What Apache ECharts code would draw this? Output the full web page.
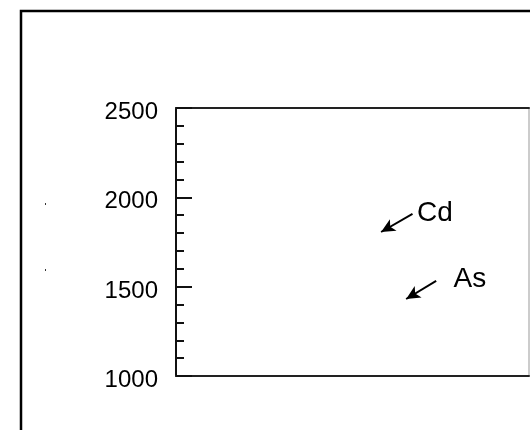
<!DOCTYPE html>
<html>
<head>
<meta charset="utf-8">
<script src="https://cdn.jsdelivr.net/npm/echarts@6/dist/echarts.min.js"></script>
<style>
  html, body { margin: 0; padding: 0; background: #fff; }
  #main { width: 530px; height: 430px; }
</style>
</head>
<body>
<div id="main"></div>
<script>
// y axis range and tick labels
const yTicks = [1000, 1500, 2000, 2500];
// annotation names, arrow tail / head in data coords, label anchor
const labelNames = ["Cd", "As"];
const arrowTail = [[67, 1907], [73.7, 1532]];
const arrowHead = [[58.1, 1806], [65.2, 1431]];
const labelPos = [[68.3, 1910], [78.6, 1544]];

const chartDom = document.getElementById("main");
const myChart = echarts.init(chartDom);

const textFont = "Liberation Sans";

const option = {
  animation: false,
  backgroundColor: "#fff",
  grid: {
    left: 176,
    top: 108,
    right: 1,
    bottom: 54,
    show: true,
    borderColor: "#999",
    borderWidth: 1
  },
  xAxis: [
    {
      type: "value",
      min: 0,
      max: 100,
      position: "bottom",
      axisLine: { show: true, onZero: false, lineStyle: { color: "#222", width: 2 } },
      axisTick: { show: false },
      axisLabel: { show: false },
      splitLine: { show: false }
    },
    {
      type: "value",
      min: 0,
      max: 100,
      position: "top",
      axisLine: { show: true, onZero: false, lineStyle: { color: "#222", width: 2 } },
      axisTick: { show: false },
      axisLabel: { show: false },
      splitLine: { show: false }
    }
  ],
  yAxis: {
    type: "value",
    min: yTicks[0],
    max: yTicks[yTicks.length - 1],
    interval: 500,
    axisLine: { show: true, onZero: false, lineStyle: { color: "#111", width: 2 } },
    axisTick: { show: true, inside: true, length: 16, lineStyle: { color: "#111", width: 2 } },
    minorTick: { show: true, splitNumber: 5, length: 8, lineStyle: { color: "#111", width: 2 } },
    axisLabel: {
      margin: 18,
      fontFamily: textFont,
      fontSize: 24,
      color: "#000",
      verticalAlign: "top",
      lineHeight: 9,
      formatter: (v) => (yTicks.includes(v) ? String(v) : "")
    },
    splitLine: { show: false },
    minorSplitLine: { show: false }
  },
  series: [
    {
      type: "scatter",
      xAxisIndex: 0,
      symbolSize: 0,
      itemStyle: { opacity: 1 },
      data: labelPos.map((p, i) => ({ value: p, name: labelNames[i] })),
      label: {
        show: true,
        position: "right",
        distance: 0,
        formatter: (p) => p.name,
        fontFamily: textFont,
        fontSize: 28,
        color: "#000"
      },
      markLine: {
        silent: true,
        symbol: ["none", "arrow"],
        symbolSize: [10, 14],
        label: { show: false },
        lineStyle: { color: "#000", width: 2, type: "solid", opacity: 1 },
        data: arrowTail.map((t, i) => [{ coord: t }, { coord: arrowHead[i] }])
      }
    }
  ],
  graphic: [
    {
      // outer frame
      type: "rect",
      shape: { x: 21, y: 11, width: 560, height: 460 },
      style: { fill: "none", stroke: "#000", lineWidth: 2.5 }
    },
    { type: "rect", shape: { x: 45, y: 203, width: 1, height: 2 }, style: { fill: "#333" } },
    { type: "rect", shape: { x: 45, y: 269, width: 1, height: 2 }, style: { fill: "#333" } }
  ]
};

option && myChart.setOption(option);
</script>
</body>
</html>
